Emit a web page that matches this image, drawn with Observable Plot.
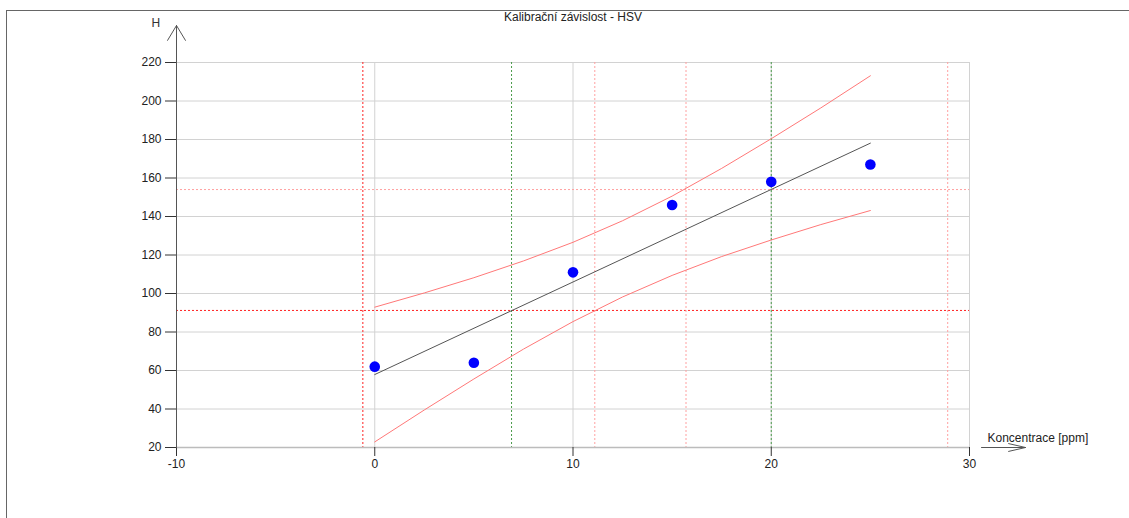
<!DOCTYPE html>
<html><head><meta charset="utf-8">
<script src="https://cdn.jsdelivr.net/npm/d3@7"></script>
<script src="https://cdn.jsdelivr.net/npm/@observablehq/plot@0.6"></script>
<style>
html,body{margin:0;padding:0;background:#fff;}
#wrap{position:relative;width:1129px;height:518px;overflow:hidden;font-family:"Liberation Sans",Arial,sans-serif;}
#frame{position:absolute;left:6px;top:10px;right:-4px;bottom:-4px;border-top:1px solid #666;border-left:1px solid #666;}
#chart{position:absolute;left:0;top:0;}
</style></head><body>
<div id="wrap"><div id="frame"></div><div id="chart"></div></div>
<script>
// ---- data ----
const title = "Kalibrační závislost - HSV";
const xLabel = "Koncentrace [ppm]";
const yLabel = "H";
const xTicks = [-10, 0, 10, 20, 30];
const yTicks = [20, 40, 60, 80, 100, 120, 140, 160, 180, 200, 220];
const xGrid = [0, 10, 20, 30];
const yGrid = [40, 60, 80, 100, 120, 140, 160, 180, 200, 220];

const concentration = [0, 5, 10, 15, 20, 25];
const hue = [62, 64, 111, 146, 158, 167];

const fitX = [0, 25];
const fitY = [57.9, 178.1];

const bandX = [0, 2.5, 5, 7.5, 10, 12.5, 15, 17.5, 20, 22.5, 25];
const bandUpper = [92.9, 100.3, 108.2, 116.9, 126.6, 137.8, 150.6, 165.0, 180.4, 196.4, 213.1];
const bandLower = [22.9, 39.5, 55.6, 71.1, 85.4, 98.2, 109.4, 119.2, 127.8, 135.8, 143.1];

const levelLow = [91.2];        // bright red dotted horizontal
const levelHigh = [154.0];      // light red dotted horizontal
const limitX = [-0.6];          // bright red dotted vertical
const fitCrossX = [6.9, 20.0];  // green dotted verticals
const bandCrossX = [11.1, 15.7, 28.9]; // light red dotted verticals

const xDomain = [-10, 30];
const yDomain = [20, 220];

// ---- build ----
const band = bandX.map((x, i) => ({x, up: bandUpper[i], lo: bandLower[i]}));
const pts = concentration.map((x, i) => ({x, y: hue[i]}));
const fit = fitX.map((x, i) => ({x, y: fitY[i]}));

const font = "12px";
const fmt = d => String(d);
const plot = Plot.plot({
  width: 1129,
  height: 518,
  marginLeft: 176,
  marginRight: 160,
  marginTop: 62,
  marginBottom: 71,
  style: {background: "transparent", fontFamily: '"Liberation Sans", Arial, sans-serif', fontSize: font, color: "#222"},
  x: {domain: xDomain},
  y: {domain: yDomain},
  marks: [
    Plot.gridY(yGrid, {stroke: "#d2d2d2", strokeOpacity: 1}),
    Plot.gridX(xGrid, {stroke: "#d2d2d2", strokeOpacity: 1}),
    Plot.ruleY(levelLow, {stroke: "#ff2020", strokeDasharray: "2,2"}),
    Plot.ruleY(levelHigh, {stroke: "#ffa0a0", strokeDasharray: "2,2"}),
    Plot.ruleX(limitX, {stroke: "#ff2020", strokeDasharray: "2,2"}),
    Plot.ruleX(fitCrossX, {stroke: "#4a9a4a", strokeDasharray: "2,2"}),
    Plot.ruleX(bandCrossX, {stroke: "#ffa0a0", strokeDasharray: "2,2"}),
    Plot.ruleY([yDomain[0]], {stroke: "#bcbcbc", strokeWidth: 1.5}),
    Plot.line(band, {x: "x", y: "up", stroke: "#ff7878", strokeWidth: 1}),
    Plot.line(band, {x: "x", y: "lo", stroke: "#ff7878", strokeWidth: 1}),
    Plot.line(fit, {x: "x", y: "y", stroke: "#555", strokeWidth: 1}),
    Plot.dot(pts, {x: "x", y: "y", r: 5.3, fill: "#0000ff", stroke: "none"}),
    Plot.axisY(yTicks, {tickSize: 11, tickPadding: 4, label: null, tickFormat: fmt, stroke: "#333", fill: "#222", fontSize: font}),
    Plot.axisX(xTicks, {tickSize: 9, tickPadding: 3, label: null, tickFormat: fmt, stroke: "#333", fill: "#222", fontSize: font}),
    Plot.arrow([0], {x1: xDomain[0], x2: xDomain[0], y1: yDomain[0], y2: yDomain[1],
      insetEnd: -37, headLength: 26, headAngle: 62, stroke: "#555", strokeWidth: 1, clip: false}),
    Plot.arrow([0], {x1: xDomain[0], x2: xDomain[1], y1: yDomain[0], y2: yDomain[0],
      insetStart: 805, insetEnd: -56, headLength: 26, headAngle: 26, stroke: "#555", strokeWidth: 1, clip: false}),
    Plot.text([title], {frameAnchor: "top", dy: -50, fontSize: font, fill: "#222"}),
    Plot.text([yLabel], {frameAnchor: "top-left", dx: -25, dy: -44, fontSize: font, fill: "#333"}),
    Plot.text([xLabel], {frameAnchor: "bottom-right", dx: 18, dy: -6, textAnchor: "start", fontSize: font, fill: "#222"})
  ]
});
document.getElementById("chart").appendChild(plot);
</script>
</body></html>
